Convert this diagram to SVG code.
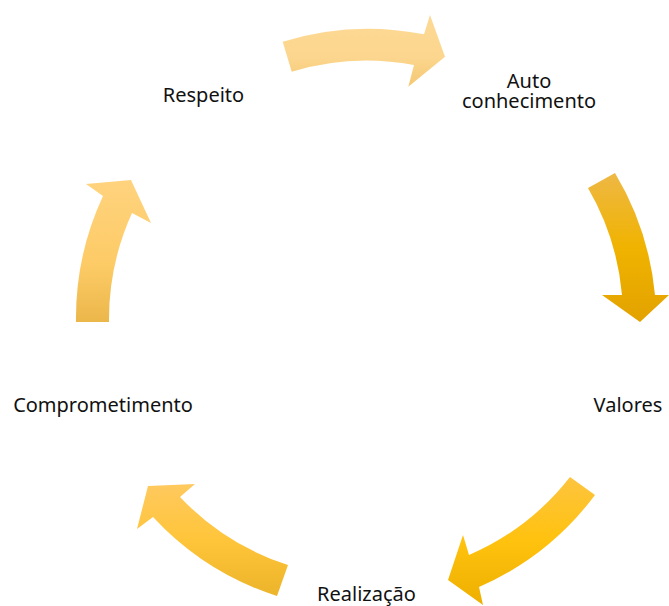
<svg xmlns="http://www.w3.org/2000/svg" width="669" height="606" viewBox="0 0 669 606">
<style>
.lbl{font-family:"Noto Sans","Open Sans","DejaVu Sans",sans-serif;font-size:20px;fill:#111;text-anchor:middle}
</style>
<defs>
<linearGradient id="g1" x1="0" y1="0" x2="0" y2="1"><stop offset="0" stop-color="#FDD994"/><stop offset="0.6" stop-color="#FCD68E"/><stop offset="1" stop-color="#F4C872"/></linearGradient>
<linearGradient id="g2" x1="0" y1="0" x2="0" y2="1"><stop offset="0" stop-color="#EEB845"/><stop offset="0.5" stop-color="#F0B300"/><stop offset="1" stop-color="#E3A200"/></linearGradient>
<linearGradient id="g3" x1="0" y1="0" x2="0" y2="1"><stop offset="0" stop-color="#FDC43F"/><stop offset="0.5" stop-color="#FFC20E"/><stop offset="1" stop-color="#EEAF00"/></linearGradient>
<linearGradient id="g4" x1="0" y1="0" x2="0" y2="1"><stop offset="0" stop-color="#FFC95E"/><stop offset="0.5" stop-color="#FFC53A"/><stop offset="1" stop-color="#ECB42A"/></linearGradient>
<linearGradient id="g5" x1="0" y1="0" x2="0" y2="1"><stop offset="0" stop-color="#FFD37E"/><stop offset="0.6" stop-color="#FDCB66"/><stop offset="1" stop-color="#EBB74B"/></linearGradient>
</defs>
<g id="connectors">
<path id="arrow-top" fill="url(#g1)" d="M282.7,41.7 A290,290 0 0 1 424,34.3 L430,15 L445,56.7 L408.3,86.7 L414,65 A258,258 0 0 0 291.7,71.7 Z"/>
<path id="arrow-right" fill="url(#g2)" d="M615,173 A290,290 0 0 1 655,295 L669,295 L640,322 L602,295 L622,295 A258,258 0 0 0 588,188 Z"/>
<path id="arrow-bottom-right" fill="url(#g3)" d="M595,495 A290,290 0 0 1 479,587 L483,605 L448,580 L463,535 L469,555 A258,258 0 0 0 570,477 Z"/>
<path id="arrow-bottom-left" fill="url(#g4)" d="M277,596 A290,290 0 0 1 153,517 L137,529 L148,486 L195,484 L180,497 A258,258 0 0 0 288,565 Z"/>
<path id="arrow-left" fill="url(#g5)" d="M76,322 A290,290 0 0 1 103,196 L86,184 L131,180 L151,223 L132,213 A258,258 0 0 0 109,322 Z"/>
</g>
<g id="node-respeito"><text class="lbl" x="203.5" y="101.7">Respeito</text></g>
<g id="node-auto"><text class="lbl" x="529" y="88">Auto</text><text class="lbl" x="529" y="108">conhecimento</text></g>
<g id="node-valores"><text class="lbl" x="628" y="411.7">Valores</text></g>
<g id="node-realizacao"><text class="lbl" x="366.5" y="600.5">Realização</text></g>
<g id="node-comprometimento"><text class="lbl" x="103" y="411.7">Comprometimento</text></g>
</svg>
